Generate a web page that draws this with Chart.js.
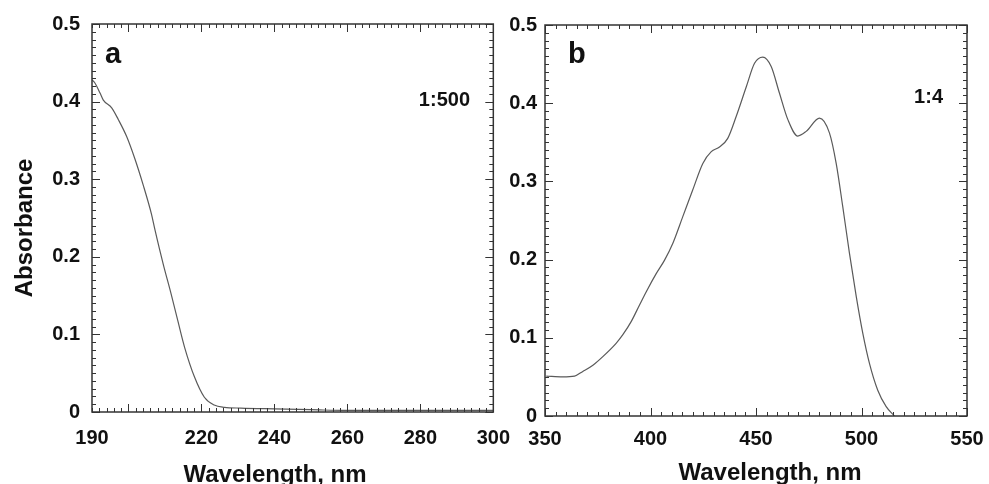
<!DOCTYPE html>
<html>
<head>
<meta charset="utf-8">
<script src="https://cdn.jsdelivr.net/npm/chart.js@4.4.1/dist/chart.umd.min.js"></script>
<style>
  html, body { margin: 0; padding: 0; background: #fff; }
  #wrap { position: relative; width: 989px; height: 484px; overflow: hidden; }
  canvas { position: absolute; top: 0; }
  #chartA { left: 0; }
  #chartB { left: 500px; }
</style>
</head>
<body>
<div id="wrap">
  <canvas id="chartA" width="524" height="484"></canvas>
  <canvas id="chartB" width="496" height="484"></canvas>
</div>
<script>
// panel a: 1:500
var waveA = [190, 190.8, 192.2, 193.1, 195.4, 197.2, 199.5, 201.7, 204, 206.3, 207.2, 209.5,
             211.7, 213.5, 215.4, 218.1, 220.8, 223.5, 226.3, 230.8, 240, 250, 260, 280, 300];
var absA  = [0.428, 0.424, 0.411, 0.402, 0.392, 0.377, 0.355, 0.327, 0.293, 0.255, 0.236, 0.191,
             0.152, 0.118, 0.083, 0.045, 0.019, 0.009, 0.006, 0.005, 0.004, 0.003, 0.002, 0.002, 0.002];
var tickLabelsA = [190, 220, 240, 260, 280, 300];

// panel b: 1:4
var waveB = [350.6, 358.4, 364, 367.9, 372.7, 377.4, 383.7, 386.9, 390.9, 394.8, 398, 402.7, 406.6,
             410.6, 415.3, 420, 424.8, 428.8, 432.7, 436.6, 440.6, 445.4, 449.3, 453.2, 457.2, 461.1,
             465.1, 469.8, 473.8, 480.1, 484.8, 488, 491.1, 494.3, 497.5, 500.6, 503.8, 507.7, 511.7, 515.6];
var absB  = [0.051, 0.05, 0.051, 0.057, 0.065, 0.076, 0.093, 0.104, 0.121, 0.142, 0.159, 0.182, 0.199,
             0.221, 0.255, 0.289, 0.323, 0.338, 0.344, 0.355, 0.383, 0.421, 0.451, 0.459, 0.447, 0.413,
             0.379, 0.358, 0.364, 0.381, 0.362, 0.323, 0.268, 0.208, 0.153, 0.106, 0.067, 0.033, 0.012, 0];
var tickLabelsB = [350, 400, 450, 500, 550];

var yTicks = [0, 0.1, 0.2, 0.3, 0.4, 0.5];

Chart.defaults.font.family = '"Liberation Sans", Arial, sans-serif';
Chart.defaults.color = '#111';

function pts(xs, ys) {
  return xs.map(function (v, i) { return { x: v, y: ys[i] }; });
}

// frame + inward ticks on all four sides, plus panel texts
var frameTicks = {
  id: 'frameTicks',
  afterDatasetsDraw: function (chart, args, o) {
    var ctx = chart.ctx, a = chart.chartArea, x = chart.scales.x, y = chart.scales.y;
    ctx.save();
    ctx.strokeStyle = '#333';
    ctx.lineWidth = 1.5;
    ctx.strokeRect(a.left, a.top, a.right - a.left, a.bottom - a.top);
    ctx.lineWidth = 1;
    ctx.beginPath();
    var n = Math.round((o.xMax - o.xMin) / o.xMinor);
    for (var i = 0; i <= n; i++) {
      var v = o.xMin + i * o.xMinor;
      var r = v / o.xMajor;
      var len = Math.abs(r - Math.round(r)) < 1e-6 ? 8 : 4;
      var px = Math.round(x.getPixelForValue(v)) + 0.5;
      ctx.moveTo(px, a.bottom); ctx.lineTo(px, a.bottom - len);
      ctx.moveTo(px, a.top); ctx.lineTo(px, a.top + len);
    }
    for (var j = 0; j <= 50; j++) {
      var yv = j * 0.01;
      var ylen = j % 10 === 0 ? 8 : 4;
      var py = Math.round(y.getPixelForValue(yv)) + 0.5;
      ctx.moveTo(a.left, py); ctx.lineTo(a.left + ylen, py);
      ctx.moveTo(a.right, py); ctx.lineTo(a.right - ylen, py);
    }
    ctx.stroke();

    ctx.fillStyle = '#111';
    ctx.textBaseline = 'alphabetic';
    ctx.font = 'bold 29px "Liberation Sans", Arial, sans-serif';
    ctx.textAlign = 'left';
    ctx.fillText(o.letter, o.letterX, 63);
    ctx.font = 'bold 20px "Liberation Sans", Arial, sans-serif';
    ctx.textAlign = 'right';
    ctx.fillText(o.ratio, o.ratioX, o.ratioY);
    ctx.font = 'bold 24px "Liberation Sans", Arial, sans-serif';
    ctx.textAlign = 'center';
    ctx.fillText('Wavelength, nm', o.titleX, o.titleY);
    if (o.yTitle) {
      ctx.translate(32, 228);
      ctx.rotate(-Math.PI / 2);
      ctx.fillText('Absorbance', 0, 0);
    }
    ctx.restore();
  }
};

function makeChart(id, xs, ys, xLabels, xMin, xMax, yWidth, yPad, xPad, topPad, bottomH, rightPad, opts) {
  return new Chart(document.getElementById(id), {
    type: 'line',
    data: {
      datasets: [{
        data: pts(xs, ys),
        borderColor: '#5a5a5a',
        borderWidth: 1.2,
        pointRadius: 0,
        fill: false,
        cubicInterpolationMode: 'monotone'
      }]
    },
    options: {
      responsive: false,
      animation: false,
      events: [],
      layout: { padding: { top: topPad, right: rightPad, left: 0, bottom: 0 } },
      plugins: { legend: { display: false }, tooltip: { enabled: false }, frameTicks: opts },
      scales: {
        x: {
          type: 'linear', min: xMin, max: xMax,
          grid: { display: false, drawTicks: false }, border: { display: false },
          afterBuildTicks: function (s) { s.ticks = xLabels.map(function (v) { return { value: v }; }); },
          afterFit: function (s) { s.height = bottomH; },
          ticks: { font: { size: 20, weight: 'bold' }, padding: xPad, maxRotation: 0, autoSkip: false }
        },
        y: {
          min: 0, max: 0.5,
          grid: { display: false, drawTicks: false }, border: { display: false },
          afterBuildTicks: function (s) { s.ticks = yTicks.map(function (v) { return { value: v }; }); },
          afterFit: function (s) { s.width = yWidth; },
          ticks: { font: { size: 20, weight: 'bold' }, padding: yPad }
        }
      }
    },
    plugins: [frameTicks]
  });
}

makeChart('chartA', waveA, absA, tickLabelsA, 190, 300, 92, 12, 14, 22, 72, 29, {
  xMin: 190, xMax: 300, xMinor: 2, xMajor: 20,
  letter: 'a', letterX: 105, ratio: '1:500', ratioX: 470, ratioY: 106,
  titleX: 275, titleY: 482, yTitle: true
});

makeChart('chartB', waveB, absB, tickLabelsB, 350, 550, 45, 8, 11, 25, 68, 29, {
  xMin: 350, xMax: 550, xMinor: 5, xMajor: 50,
  letter: 'b', letterX: 68, ratio: '1:4', ratioX: 443, ratioY: 103,
  titleX: 270, titleY: 480, yTitle: false
});
</script>
</body>
</html>
